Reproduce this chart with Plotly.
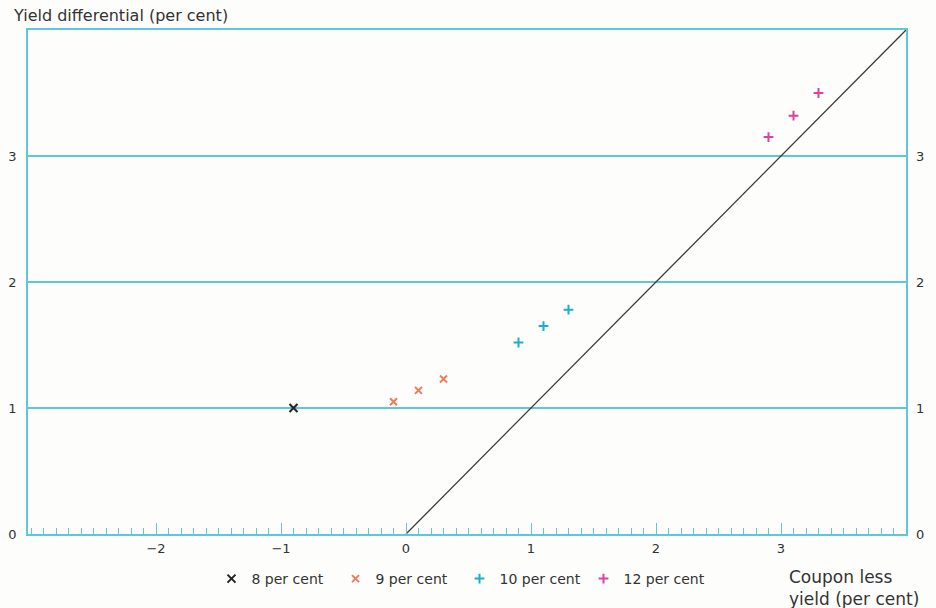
import plotly.graph_objects as go

# Data
x8 = [-0.9]
y8 = [1.0]
x9 = [-0.1, 0.1, 0.3]
y9 = [1.05, 1.14, 1.23]
x10 = [0.9, 1.1, 1.3]
y10 = [1.52, 1.65, 1.78]
x12 = [2.9, 3.1, 3.3]
y12 = [3.15, 3.32, 3.5]
line_x = [0, 4]
line_y = [0, 4]
x_ticks = [-2, -1, 0, 1, 2, 3]
x_labels = ["\u22122", "\u22121", "0", "1", "2", "3"]
y_ticks = [0, 1, 2, 3]
y_labels = ["0", "1", "2", "3"]

CYAN = "#5ec8d8"
FONT = "DejaVu Sans, Liberation Sans, Arial, sans-serif"
TXT = "#333333"

fig = go.Figure()
fig.add_trace(go.Scatter(x=line_x, y=line_y, mode="lines",
                         line=dict(color="#3a3a3a", width=1.3),
                         showlegend=False, hoverinfo="skip"))
fig.add_trace(go.Scatter(x=x8, y=y8, mode="markers", name="8 per cent",
                         marker=dict(symbol="x-thin", size=8, color="#222222",
                                     line=dict(width=2, color="#222222"))))
fig.add_trace(go.Scatter(x=x9, y=y9, mode="markers", name="9 per cent",
                         marker=dict(symbol="x-thin", size=7, color="#f07a5c",
                                     line=dict(width=2, color="#f07a5c"))))
fig.add_trace(go.Scatter(x=x10, y=y10, mode="markers", name="10 per cent",
                         marker=dict(symbol="cross-thin", size=7, color="#1aaed6",
                                     line=dict(width=2, color="#1aaed6"))))
fig.add_trace(go.Scatter(x=x12, y=y12, mode="markers", name="12 per cent",
                         marker=dict(symbol="cross-thin", size=7, color="#e0409e",
                                     line=dict(width=2, color="#e0409e"))))
# invisible trace to activate the right-hand axis
fig.add_trace(go.Scatter(x=line_x, y=line_y, yaxis="y2", mode="lines",
                         line=dict(width=0, color="rgba(0,0,0,0)"),
                         showlegend=False, hoverinfo="skip"))

fig.update_layout(
    width=936, height=608,
    margin=dict(l=28, r=30, t=30, b=74, autoexpand=False),
    paper_bgcolor="#fdfdfb", plot_bgcolor="#fdfdfb",
    font=dict(family=FONT, size=12, color=TXT),
    xaxis=dict(range=[-3.024, 4.0], tickvals=x_ticks, ticktext=x_labels,
               showgrid=False, zeroline=False, automargin=False,
               showline=True, linecolor=CYAN, linewidth=1.5, mirror=True,
               ticks="inside", ticklen=11, tickcolor=CYAN, tickwidth=1.2,
               minor=dict(dtick=0.1, tick0=0, ticks="inside", ticklen=6,
                          tickcolor=CYAN, tickwidth=1, showgrid=False),
               tickfont=dict(size=13, color=TXT, family=FONT), ticklabelstandoff=2),
    yaxis=dict(range=[0, 4.0], tickvals=y_ticks, ticktext=y_labels,
               showgrid=True, gridcolor=CYAN, gridwidth=1.5, zeroline=False,
               showline=True, linecolor=CYAN, linewidth=1.5, mirror=True,
               automargin=False,
               ticks="", tickfont=dict(size=13, color=TXT, family=FONT),
               ticklabelstandoff=7),
    yaxis2=dict(range=[0, 4.0], tickvals=y_ticks, ticktext=y_labels,
                overlaying="y", side="right", showgrid=False, zeroline=False,
                showline=False, ticks="", automargin=False,
                tickfont=dict(size=13, color=TXT, family=FONT),
                ticklabelstandoff=9),
    legend=dict(orientation="h", x=0.209, xanchor="left", xref="paper",
                y=0.074, yanchor="top", yref="container",
                entrywidth=79, entrywidthmode="pixels",
                font=dict(size=14, color=TXT, family=FONT),
                bgcolor="rgba(0,0,0,0)"),
    annotations=[
        dict(text="Yield differential (per cent)", xref="paper", yref="paper",
             x=-0.019, y=1.0, xanchor="left", yanchor="bottom", yshift=3,
             showarrow=False, font=dict(size=16, color=TXT, family=FONT)),
        dict(text="Coupon less<br>yield (per cent)", xref="paper", yref="paper",
             x=0.864, y=-0.062, xanchor="left", yanchor="top", align="left",
             showarrow=False, font=dict(size=17, color=TXT, family=FONT)),
    ],
)

fig.write_html("out.html")
